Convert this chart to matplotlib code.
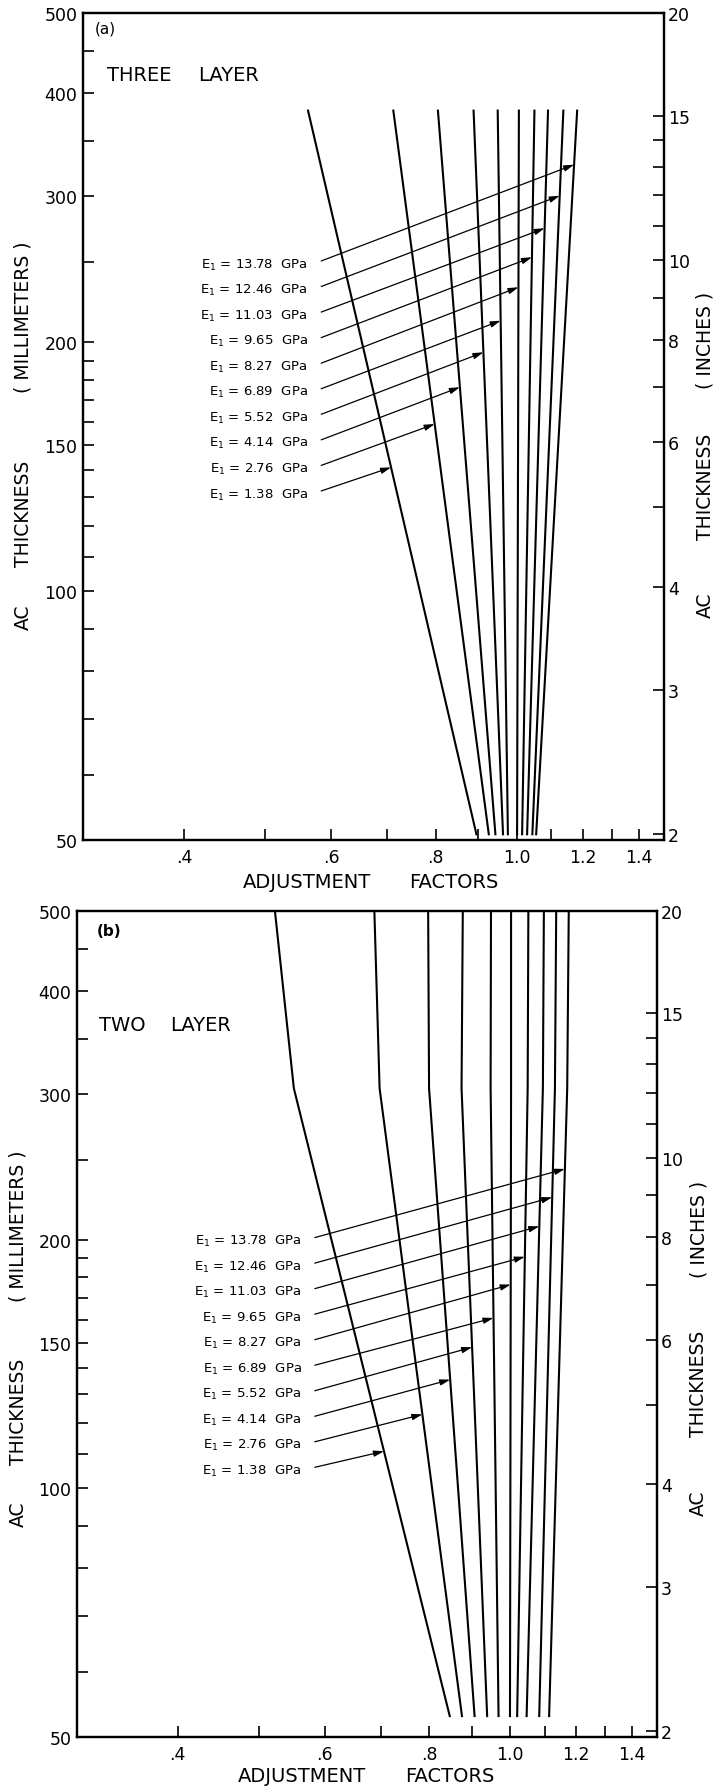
import numpy as np
import matplotlib
matplotlib.use('Agg')
import matplotlib.pyplot as plt
from matplotlib.ticker import NullFormatter

plt.rcParams['font.family'] = ['DejaVu Sans']

# upper layer modulus, GPa -- one curve each, left to right
e1_gpa = [1.38, 2.76, 4.14, 5.52, 6.89, 8.27, 9.65, 11.03, 12.46, 13.78]

# (a) three layer: straight lines from 15 in down to 2 in
three_thick = [381.0, 50.8]
three_top = [0.563, 0.712, 0.805, 0.888, 0.949, 1.006, 1.050, 1.090, 1.137, 1.181]
three_bot = [0.895, 0.926, 0.943, 0.963, 0.976, 1.001, 1.015, 1.029, 1.044, 1.055]
# thickness (mm) where each label arrow hits its curve
three_arrow_mm = [141.1, 159.2, 176.4, 194.4, 212.3, 233.0, 253.3, 274.6, 300.6, 327.8]

# (b) two layer: lines with a knee near 300 mm
two_thick = [500.0, 305.0, 53.0]
two_top = [0.523, 0.688, 0.798, 0.878, 0.949, 1.003, 1.052, 1.098, 1.136, 1.176]
two_knee = [0.551, 0.698, 0.800, 0.875, 0.948, 1.003, 1.050, 1.095, 1.132, 1.171]
two_bot = [0.847, 0.876, 0.907, 0.939, 0.969, 1.000, 1.020, 1.047, 1.084, 1.114]
two_arrow_mm = [110.9, 122.9, 135.4, 148.2, 160.8, 176.5, 190.7, 207.6, 225.1, 243.6]

mm_ticks = [50, 100, 150, 200, 300, 400, 500]
mm_minor = [60, 70, 80, 90, 110, 120, 130, 140, 160, 170, 180, 190, 250, 350, 450]
in_ticks = [2, 3, 4, 6, 8, 10, 15, 20]
in_minor = [5, 7, 9, 11, 12, 13, 14]
af_ticks = [0.4, 0.6, 0.8, 1.0, 1.2, 1.4]
af_labels = ['.4', '.6', '.8', '1.0', '1.2', '1.4']
af_minor = [0.5, 0.7, 0.9, 1.1, 1.3]


def setup_axes(ax):
    ax.set_xscale('log')
    ax.set_yscale('log')
    ax.set_xlim(0.303, 1.50)
    ax.set_ylim(50, 500)
    ax.set_xticks(af_ticks, labels=af_labels)
    ax.set_xticks(af_minor, minor=True)
    ax.set_yticks(mm_ticks, labels=[str(t) for t in mm_ticks])
    ax.set_yticks(mm_minor, minor=True)
    ax.xaxis.set_minor_formatter(NullFormatter())
    ax.yaxis.set_minor_formatter(NullFormatter())
    ax.tick_params(which='both', direction='in', length=8, width=1.2,
                   labelsize=12.5)
    ax.tick_params(axis='x', which='both', pad=6)
    ax.tick_params(axis='y', which='both', pad=4)
    for sp in ax.spines.values():
        sp.set_linewidth(1.6)

    axr = ax.twinx()
    axr.set_yscale('log')
    axr.set_ylim(50 / 25.4, 20)
    axr.set_yticks(in_ticks, labels=[str(t) for t in in_ticks])
    axr.set_yticks(in_minor, minor=True)
    axr.yaxis.set_minor_formatter(NullFormatter())
    axr.tick_params(which='both', direction='in', length=8, width=1.2,
                    labelsize=12.5, pad=3)
    for sp in axr.spines.values():
        sp.set_linewidth(1.6)
    return axr


def axis_words(ax, lay):
    # split axis titles, spaced like the original lettering
    kw = dict(transform=ax.transAxes, fontsize=13.5, ha='center', va='center')
    for word, y in zip(['AC', 'THICKNESS', '( MILLIMETERS )'], lay['left_y']):
        ax.text(lay['left_x'], y, word, rotation=90, **kw)
    for word, y in zip(['AC', 'THICKNESS', '( INCHES )'], lay['right_y']):
        ax.text(lay['right_x'], y, word, rotation=90, **kw)
    for word, x in zip(['ADJUSTMENT', 'FACTORS'], lay['xlab_x']):
        ax.text(x, lay['xlab_y'], word, fontsize=14, transform=ax.transAxes,
                ha='center', va='center')


def label_arrows(ax, thick, curves, arrow_mm, first_mm):
    step = 0.0309
    lt = np.log10(thick)[::-1]
    for i, e in enumerate(e1_gpa):
        xs = np.log10([c[i] for c in curves])[::-1]
        x_hit = 10 ** np.interp(np.log10(arrow_mm[i]), lt, xs)
        y_lab = first_mm * 10 ** (-(len(e1_gpa) - 1 - i) * step)
        ax.text(0.387, y_lab, 'E$_1$ = %.2f  GPa' % e, fontsize=9.5,
                transform=ax.get_yaxis_transform(), ha='right', va='center')
        ax.annotate('', xy=(x_hit, arrow_mm[i]),
                    xytext=(0.41, y_lab * 10 ** (3.0 / 827)),
                    xycoords='data', textcoords=('axes fraction', 'data'),
                    arrowprops=dict(arrowstyle='-|>,head_length=0.6,head_width=0.18',
                                    lw=0.9, color='k', shrinkA=0, shrinkB=0))


fig = plt.figure(figsize=(7.23, 17.90), dpi=100)

# ---- (a) three layer ----
ax_a = fig.add_axes([83 / 723, 1 - 841 / 1790, 581 / 723, 827 / 1790])
setup_axes(ax_a)
for i in range(len(e1_gpa)):
    ax_a.plot([three_top[i], three_bot[i]], three_thick, color='k', lw=1.5)
label_arrows(ax_a, three_thick, [three_top, three_bot], three_arrow_mm, 248.6)
ax_a.text(0.02, 0.982, '(a)', transform=ax_a.transAxes, fontsize=11,
          ha='left', va='center')
ax_a.text(0.042, 0.9254, 'THREE', transform=ax_a.transAxes, fontsize=14,
          ha='left', va='center')
ax_a.text(0.198, 0.9254, 'LAYER', transform=ax_a.transAxes, fontsize=14,
          ha='left', va='center')
axis_words(ax_a, {'left_x': -0.103, 'left_y': [0.270, 0.396, 0.633],
                  'right_x': 1.071, 'right_y': [0.2845, 0.428, 0.605],
                  'xlab_x': [0.386, 0.639], 'xlab_y': -0.0496})

# ---- (b) two layer ----
ax_b = fig.add_axes([77 / 723, 1 - 1738 / 1790, 580 / 723, 826 / 1790])
setup_axes(ax_b)
for i in range(len(e1_gpa)):
    ax_b.plot([two_top[i], two_knee[i], two_bot[i]], two_thick, color='k', lw=1.5)
label_arrows(ax_b, two_thick, [two_top, two_knee, two_bot], two_arrow_mm, 199.5)
ax_b.text(0.034, 0.976, '(b)', transform=ax_b.transAxes, fontsize=11,
          fontweight='bold', ha='left', va='center')
ax_b.text(0.038, 0.863, 'TWO', transform=ax_b.transAxes, fontsize=14,
          ha='left', va='center')
ax_b.text(0.160, 0.863, 'LAYER', transform=ax_b.transAxes, fontsize=14,
          ha='left', va='center')
axis_words(ax_b, {'left_x': -0.101, 'left_y': [0.271, 0.395, 0.619],
                  'right_x': 1.0716, 'right_y': [0.2845, 0.4286, 0.616],
                  'xlab_x': [0.3876, 0.642], 'xlab_y': -0.047})

fig.savefig('out.png', dpi=100)
